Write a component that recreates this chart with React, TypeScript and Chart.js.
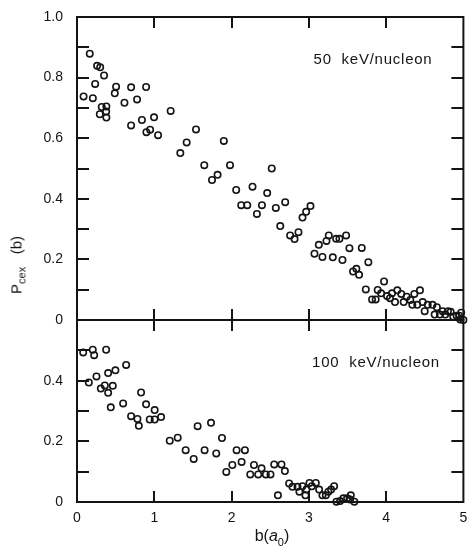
import React, { useEffect, useRef } from 'react';
import { Chart, registerables } from 'chart.js';

Chart.register(...registerables);

// 50 keV/nucleon (upper panel)
const topX = [
  0.085, 0.165, 0.205, 0.235, 0.26, 0.30, 0.295, 0.32, 0.35, 0.377, 0.38, 0.38,
  0.489, 0.506, 0.614, 0.70, 0.70, 0.777, 0.84, 0.894, 0.898, 0.946, 0.997, 1.049,
  1.212, 1.337, 1.419, 1.54, 1.647, 1.747, 1.819, 1.90, 1.98, 2.06, 2.125, 2.203,
  2.271, 2.328, 2.393, 2.461, 2.52, 2.573, 2.63, 2.694, 2.758, 2.815, 2.866, 2.918,
  2.965, 3.021, 3.073, 3.129, 3.176, 3.228, 3.258, 3.31, 3.353, 3.396, 3.435, 3.482,
  3.525, 3.572, 3.615, 3.65, 3.685, 3.737, 3.77, 3.818, 3.865, 3.891, 3.935, 3.973,
  4.012, 4.05, 4.076, 4.115, 4.145, 4.196, 4.227, 4.266, 4.313, 4.339, 4.365, 4.403,
  4.438, 4.473, 4.499, 4.538, 4.60, 4.628, 4.657, 4.696, 4.731, 4.765, 4.80, 4.835,
  4.869, 4.912, 4.946, 4.971, 4.959, 5.0,
];
const topY = [
  0.738, 0.879, 0.732, 0.779, 0.839, 0.834, 0.679, 0.703, 0.807, 0.688, 0.705, 0.668,
  0.748, 0.770, 0.717, 0.768, 0.642, 0.728, 0.660, 0.769, 0.620, 0.628, 0.669, 0.610,
  0.690, 0.551, 0.586, 0.629, 0.511, 0.462, 0.479, 0.591, 0.511, 0.429, 0.379, 0.379,
  0.440, 0.350, 0.379, 0.419, 0.500, 0.370, 0.310, 0.389, 0.279, 0.267, 0.290, 0.338,
  0.357, 0.376, 0.219, 0.248, 0.208, 0.261, 0.279, 0.207, 0.268, 0.268, 0.198, 0.279,
  0.237, 0.160, 0.169, 0.149, 0.238, 0.101, 0.191, 0.068, 0.068, 0.099, 0.088, 0.127,
  0.079, 0.072, 0.088, 0.059, 0.098, 0.086, 0.059, 0.077, 0.066, 0.050, 0.086, 0.050,
  0.098, 0.059, 0.029, 0.050, 0.050, 0.018, 0.042, 0.018, 0.029, 0.018, 0.029, 0.027,
  0.011, 0.014, 0.014, 0.024, 0.002, 0.0,
];

// 100 keV/nucleon (lower panel)
const botX = [
  0.08, 0.153, 0.204, 0.222, 0.252, 0.308, 0.36, 0.377, 0.403, 0.403, 0.437, 0.463,
  0.497, 0.597, 0.636, 0.70, 0.782, 0.80, 0.829, 0.894, 0.941, 1.005, 1.005, 1.088,
  1.2, 1.303, 1.406, 1.51, 1.561, 1.651, 1.734, 1.802, 1.876, 1.932, 2.01, 2.065,
  2.13, 2.173, 2.242, 2.29, 2.345, 2.388, 2.444, 2.504, 2.552, 2.60, 2.646, 2.69,
  2.745, 2.788, 2.853, 2.878, 2.917, 2.956, 2.969, 3.008, 3.039, 3.09, 3.133, 3.176,
  3.22, 3.253, 3.288, 3.327, 3.357, 3.404, 3.447, 3.495, 3.534, 3.543, 3.589,
];
const botY = [
  0.493, 0.394, 0.502, 0.484, 0.414, 0.374, 0.384, 0.502, 0.425, 0.360, 0.312, 0.383,
  0.434, 0.325, 0.452, 0.283, 0.274, 0.251, 0.361, 0.322, 0.272, 0.303, 0.272, 0.280,
  0.202, 0.212, 0.171, 0.142, 0.250, 0.171, 0.261, 0.160, 0.211, 0.099, 0.122, 0.171,
  0.132, 0.171, 0.091, 0.122, 0.091, 0.111, 0.091, 0.091, 0.124, 0.022, 0.124, 0.102,
  0.061, 0.050, 0.050, 0.034, 0.052, 0.022, 0.041, 0.063, 0.052, 0.063, 0.041, 0.022,
  0.022, 0.034, 0.041, 0.052, 0.001, 0.003, 0.012, 0.012, 0.008, 0.022, 0.001,
];

const topLabel = '50  keV/nucleon';
const botLabel = '100  keV/nucleon';
const xMin = 0;
const xMax = 5;
const topYMax = 1.0;
const botYMax = 0.6;
const yStep = 0.1;
const xStep = 1;

const FONT = "'Liberation Sans', Arial, Helvetica, sans-serif";
const INK = '#141414';

const frameTicks = {
  id: 'frameTicks',
  afterDraw(chart: any) {
    const { ctx, chartArea } = chart;
    const { left, right, top, bottom } = chartArea;
    const xs = chart.scales.x;
    const ys = chart.scales.y;
    ctx.save();
    ctx.strokeStyle = INK;
    ctx.lineWidth = 2;
    ctx.strokeRect(left, top, right - left, bottom - top);
    ctx.beginPath();
    xs.ticks.forEach((t: any) => {
      if (t.value <= xs.min + 1e-6 || t.value >= xs.max - 1e-6) return;
      const px = Math.round(xs.getPixelForValue(t.value));
      ctx.moveTo(px, top);
      ctx.lineTo(px, top + 11);
      ctx.moveTo(px, bottom);
      ctx.lineTo(px, bottom - 11);
    });
    ys.ticks.forEach((t: any) => {
      if (t.value <= ys.min + 1e-6 || t.value >= ys.max - 1e-6) return;
      const py = Math.round(ys.getPixelForValue(t.value));
      ctx.moveTo(left, py);
      ctx.lineTo(left + 12, py);
      ctx.moveTo(right, py);
      ctx.lineTo(right - 12, py);
    });
    ctx.stroke();
    ctx.restore();
  },
};

function yLabel(v: number, max: number) {
  const k = Math.round(v * 10);
  if (k % 2 !== 0) return '';
  if (Math.abs(v - max) < 1e-6 && max < 1) return '';
  return k === 0 ? '0' : (k / 10).toFixed(1);
}

function zeroPad(s: any) {
  s.paddingTop = 0;
  s.paddingBottom = 0;
  s.paddingLeft = 0;
  s.paddingRight = 0;
}

function makeConfig(xs: number[], ys: number[], yMax: number, isBottom: boolean): any {
  return {
    type: 'scatter',
    data: {
      datasets: [
        {
          data: xs.map((x, i) => ({ x, y: ys[i] })),
          pointStyle: 'circle',
          pointRadius: 3.2,
          pointBorderWidth: 1.6,
          pointBorderColor: INK,
          pointBackgroundColor: 'rgba(0,0,0,0)',
          showLine: false,
          clip: false,
        },
      ],
    },
    options: {
      responsive: false,
      animation: false,
      events: [],
      layout: {
        padding: isBottom
          ? { left: 0, right: 5, top: 10, bottom: 0 }
          : { left: 0, right: 5, top: 17, bottom: 10 },
      },
      plugins: { legend: { display: false }, tooltip: { enabled: false } },
      scales: {
        x: {
          type: 'linear',
          min: xMin,
          max: xMax,
          display: isBottom,
          ticks: {
            stepSize: xStep,
            color: INK,
            padding: 8,
            font: { family: FONT, size: 14 },
            maxRotation: 0,
          },
          grid: { display: false, drawTicks: false },
          border: { display: false },
          afterFit(s: any) {
            s.height = isBottom ? 48 : 0;
            zeroPad(s);
          },
        },
        y: {
          type: 'linear',
          min: 0,
          max: yMax,
          ticks: {
            stepSize: yStep,
            color: INK,
            padding: 14,
            font: { family: FONT, size: 14 },
            callback: (v: number) => yLabel(v, yMax),
          },
          grid: { display: false, drawTicks: false },
          border: { display: false },
          afterFit(s: any) {
            s.width = 77;
            zeroPad(s);
          },
        },
      },
    },
    plugins: [frameTicks],
  };
}

function Panel(props: { xs: number[]; ys: number[]; yMax: number; bottom: boolean; top: number; height: number }) {
  const ref = useRef<HTMLCanvasElement>(null);
  useEffect(() => {
    if (!ref.current) return;
    const chart = new Chart(ref.current, makeConfig(props.xs, props.ys, props.yMax, props.bottom));
    return () => chart.destroy();
  }, []);
  return (
    <canvas
      ref={ref}
      width={469}
      height={props.height}
      style={{ position: 'absolute', left: 0, top: props.top, width: 469, height: props.height }}
    />
  );
}

const textStyle: React.CSSProperties = {
  position: 'absolute',
  fontFamily: FONT,
  fontSize: 15,
  color: INK,
  whiteSpace: 'pre',
  transform: 'translate(-50%, -50%)',
  lineHeight: 1,
};

export default function App() {
  return (
    <div style={{ position: 'absolute', left: 0, top: 0, width: 469, height: 550, background: '#fff', overflow: 'hidden' }}>
      <Panel xs={topX} ys={topY} yMax={topYMax} bottom={false} top={0} height={330} />
      <Panel xs={botX} ys={botY} yMax={botYMax} bottom={true} top={310} height={240} />
      <div style={{ ...textStyle, left: 373, top: 58, letterSpacing: 0.75 }}>{topLabel}</div>
      <div style={{ ...textStyle, left: 376, top: 361, letterSpacing: 0.75 }}>{botLabel}</div>
      <div
        style={{
          ...textStyle,
          left: 18,
          top: 265,
          transform: 'translate(-50%, -50%) rotate(-90deg)',
        }}
      >
        P<sub style={{ fontSize: 11, verticalAlign: 'sub' }}>cex</sub>{'   (b)'}
      </div>
      <div style={{ ...textStyle, left: 272, top: 538, fontSize: 16 }}>
        b(<i>a</i><sub style={{ fontSize: 11 }}>0</sub>)
      </div>
    </div>
  );
}
